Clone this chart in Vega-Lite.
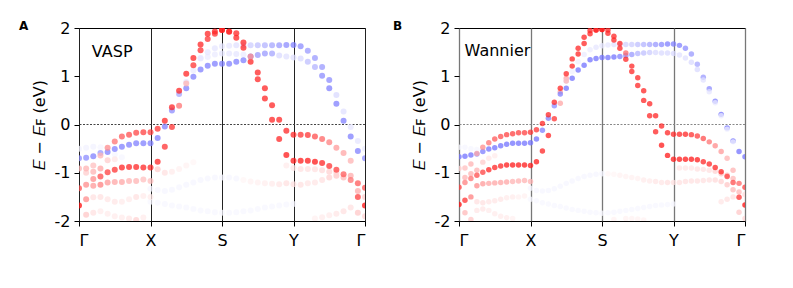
{
"$schema":"https://vega.github.io/schema/vega-lite/v6.json",
"background":"white",
"padding":{"left":18,"top":19,"right":5,"bottom":5},
"config":{"font":"DejaVu Sans","view":{"stroke":"#000","strokeWidth":1},
"axis":{"labelFont":"DejaVu Sans","labelFontSize":16,"labelColor":"#000","tickColor":"#000","tickSize":5,"tickWidth":1,"labelPadding":4,"domain":false,"titleFont":"DejaVu Sans","titleFontSize":16,"titleFontWeight":"normal","titleColor":"#000"}},
"spacing":94,
"bounds":"flush",
"datasets":{
"a":[
{"k":10,"e":-1.6,"w":-0.03},{"k":11,"e":-1.62,"w":-0.03},{"k":12,"e":-1.65,"w":-0.03},{"k":13,"e":-1.68,"w":-0.03},{"k":14,"e":-1.7,"w":-0.03},{"k":15,"e":-1.72,"w":-0.03},{"k":16,"e":-1.75,"w":-0.03},{"k":17,"e":-1.78,"w":-0.03},{"k":18,"e":-1.8,"w":-0.03},{"k":19,"e":-1.82,"w":-0.03},{"k":20,"e":-1.83,"w":-0.03},{"k":21,"e":-1.83,"w":-0.03},{"k":22,"e":-1.82,"w":-0.03},{"k":23,"e":-1.8,"w":-0.03},{"k":24,"e":-1.78,"w":-0.03},{"k":25,"e":-1.75,"w":-0.03},{"k":26,"e":-1.72,"w":-0.03},{"k":27,"e":-1.7,"w":-0.03},{"k":28,"e":-1.68,"w":-0.03},{"k":29,"e":-1.66,"w":-0.03},{"k":30,"e":-1.65,"w":-0.03},
{"k":10,"e":-1.33,"w":-0.04},{"k":11,"e":-1.36,"w":-0.04},{"k":12,"e":-1.38,"w":-0.04},{"k":13,"e":-1.35,"w":-0.04},{"k":14,"e":-1.3,"w":-0.04},{"k":15,"e":-1.25,"w":-0.04},{"k":16,"e":-1.2,"w":-0.04},{"k":17,"e":-1.15,"w":-0.04},{"k":18,"e":-1.12,"w":-0.04},{"k":19,"e":-1.1,"w":-0.04},{"k":20,"e":-1.1,"w":-0.04},{"k":21,"e":-1.1,"w":-0.04},{"k":22,"e":-1.12,"w":-0.04},{"k":23,"e":-1.15,"w":0.04},{"k":24,"e":-1.18,"w":0.05},{"k":25,"e":-1.2,"w":0.06},{"k":26,"e":-1.22,"w":0.07},{"k":27,"e":-1.23,"w":0.08},{"k":28,"e":-1.24,"w":0.1},{"k":29,"e":-1.22,"w":0.12},{"k":30,"e":-1.24,"w":0.12},{"k":31,"e":-1.25,"w":0.12},{"k":32,"e":-1.22,"w":0.1},{"k":33,"e":-1.2,"w":0.1},{"k":34,"e":-1.15,"w":0.12},{"k":35,"e":-1.1,"w":0.18},{"k":36,"e":-1.06,"w":0.22},{"k":37,"e":-1.1,"w":0.28},{"k":38,"e":-1.06,"w":0.33},{"k":39,"e":-1.38,"w":0.33},{"k":40,"e":-1.5,"w":0.2},
{"k":29,"e":-0.85,"w":0.08},{"k":30,"e":-0.9,"w":0.1},{"k":31,"e":-0.92,"w":0.12},{"k":32,"e":-0.92,"w":0.12},{"k":33,"e":-0.93,"w":0.12},{"k":34,"e":-0.95,"w":0.15},{"k":35,"e":-0.98,"w":0.18},{"k":36,"e":-1.0,"w":0.18},
{"k":11,"e":-0.93,"w":0.2},{"k":12,"e":-1.0,"w":0.12},{"k":13,"e":-0.98,"w":0.08},{"k":14,"e":-0.92,"w":0.06},{"k":15,"e":-0.85,"w":0.05},{"k":16,"e":-0.78,"w":0.04},
{"k":1,"e":-1.87,"w":0.22},{"k":2,"e":-1.83,"w":0.12},{"k":3,"e":-1.8,"w":0.08},{"k":4,"e":-1.85,"w":0.08},{"k":5,"e":-1.9,"w":0.08},{"k":6,"e":-1.93,"w":0.08},{"k":7,"e":-1.95,"w":0.1},{"k":8,"e":-1.98,"w":0.18},{"k":9,"e":-1.93,"w":0.08},{"k":33,"e":-1.95,"w":0.06},{"k":34,"e":-1.92,"w":0.08},{"k":35,"e":-1.88,"w":0.08},{"k":36,"e":-1.85,"w":0.1},{"k":37,"e":-1.8,"w":0.12},{"k":38,"e":-1.72,"w":0.12},{"k":39,"e":-1.83,"w":0.22},{"k":40,"e":-1.9,"w":0.18},
{"k":2,"e":-1.51,"w":0.12},{"k":3,"e":-1.5,"w":0.12},{"k":4,"e":-1.55,"w":0.1},{"k":5,"e":-1.6,"w":0.1},{"k":6,"e":-1.6,"w":0.08},{"k":7,"e":-1.55,"w":0.08},{"k":8,"e":-1.5,"w":0.12},{"k":9,"e":-1.48,"w":0.08},{"k":10,"e":-1.5,"w":0.08},
{"k":0,"e":-0.5,"w":-0.05},{"k":1,"e":-0.48,"w":-0.05},{"k":2,"e":-0.46,"w":-0.05},{"k":3,"e":-0.47,"w":-0.04},{"k":4,"e":-0.5,"w":-0.04},{"k":5,"e":-0.62,"w":-0.04},{"k":6,"e":-0.68,"w":-0.04},
{"k":0,"e":-1.68,"w":0.95},{"k":1,"e":-1.55,"w":0.45},{"k":2,"e":-1.27,"w":0.4},{"k":3,"e":-1.25,"w":0.5},{"k":4,"e":-1.2,"w":0.4},{"k":5,"e":-1.19,"w":0.35},{"k":6,"e":-1.19,"w":0.35},{"k":7,"e":-1.17,"w":0.3},{"k":8,"e":-1.17,"w":0.3},{"k":9,"e":-1.14,"w":0.25},{"k":10,"e":-1.17,"w":0.25},
{"k":1,"e":-1.0,"w":0.2},{"k":2,"e":-0.98,"w":0.3},{"k":3,"e":-0.91,"w":0.35},{"k":4,"e":-0.74,"w":0.2},{"k":5,"e":-0.72,"w":0.1},
{"k":17,"e":1.37,"w":-0.08},{"k":18,"e":1.4,"w":-0.08},{"k":19,"e":1.45,"w":-0.08},{"k":20,"e":1.47,"w":-0.1},{"k":21,"e":1.47,"w":-0.1},{"k":22,"e":1.46,"w":-0.1},{"k":23,"e":1.45,"w":-0.08},
{"k":15,"e":0.88,"w":-0.1},{"k":16,"e":1.12,"w":-0.08},{"k":17,"e":1.38,"w":-0.1},{"k":18,"e":1.5,"w":-0.1},{"k":19,"e":1.58,"w":-0.1},{"k":20,"e":1.62,"w":-0.1},{"k":21,"e":1.63,"w":-0.1},{"k":22,"e":1.64,"w":-0.12},{"k":23,"e":1.64,"w":-0.15},{"k":24,"e":1.64,"w":-0.2},{"k":25,"e":1.64,"w":-0.25},{"k":26,"e":1.64,"w":-0.3},{"k":27,"e":1.64,"w":-0.35},{"k":28,"e":1.64,"w":-0.4},{"k":29,"e":1.65,"w":-0.45},{"k":30,"e":1.65,"w":-0.5},{"k":31,"e":1.62,"w":-0.45},{"k":32,"e":1.53,"w":-0.4},{"k":33,"e":1.38,"w":-0.4},{"k":34,"e":1.19,"w":-0.4},{"k":35,"e":0.92,"w":-0.45},{"k":36,"e":0.61,"w":-0.15},{"k":37,"e":0.27,"w":-0.12},{"k":38,"e":-0.05,"w":-0.1},{"k":39,"e":-0.34,"w":-0.1},{"k":40,"e":-0.5,"w":-0.08},
{"k":0,"e":-0.7,"w":-0.45},{"k":1,"e":-0.69,"w":-0.45},{"k":2,"e":-0.66,"w":-0.5},{"k":3,"e":-0.59,"w":-0.4},{"k":4,"e":-0.57,"w":-0.5},{"k":5,"e":-0.51,"w":-0.5},{"k":6,"e":-0.46,"w":-0.5},{"k":7,"e":-0.42,"w":-0.5},{"k":8,"e":-0.39,"w":-0.5},{"k":9,"e":-0.39,"w":-0.5},{"k":10,"e":-0.39,"w":-0.5},{"k":11,"e":-0.28,"w":-0.5},{"k":12,"e":-0.04,"w":-0.5},{"k":13,"e":0.29,"w":-0.45},{"k":14,"e":0.63,"w":-0.35},{"k":15,"e":0.75,"w":-0.5},{"k":16,"e":0.99,"w":-0.5},{"k":17,"e":1.14,"w":-0.5},{"k":18,"e":1.22,"w":-0.5},{"k":19,"e":1.26,"w":-0.5},{"k":20,"e":1.26,"w":-0.5},{"k":21,"e":1.26,"w":-0.5},{"k":22,"e":1.3,"w":-0.5},{"k":23,"e":1.33,"w":-0.5},{"k":24,"e":1.41,"w":-0.45},{"k":25,"e":1.44,"w":-0.4},{"k":26,"e":1.47,"w":-0.4},{"k":27,"e":1.47,"w":-0.35},{"k":28,"e":1.43,"w":-0.15},{"k":29,"e":1.41,"w":-0.12},{"k":30,"e":1.39,"w":-0.12},{"k":31,"e":1.37,"w":-0.15},{"k":32,"e":1.3,"w":-0.25},{"k":33,"e":1.19,"w":-0.3},{"k":34,"e":1.01,"w":-0.45},{"k":35,"e":0.75,"w":-0.5},{"k":36,"e":0.43,"w":-0.5},{"k":37,"e":0.08,"w":-0.5},{"k":38,"e":-0.25,"w":-0.5},{"k":39,"e":-0.55,"w":-0.5},{"k":40,"e":-0.7,"w":-0.45},
{"k":0,"e":-1.32,"w":0.7},{"k":1,"e":-1.25,"w":0.45},{"k":2,"e":-1.13,"w":0.45},{"k":3,"e":-1.08,"w":0.7},{"k":4,"e":-0.99,"w":0.75},{"k":5,"e":-0.94,"w":0.8},{"k":6,"e":-0.89,"w":0.85},{"k":7,"e":-0.88,"w":0.85},{"k":8,"e":-0.88,"w":0.85},{"k":9,"e":-0.89,"w":0.85},{"k":10,"e":-0.89,"w":0.85},{"k":11,"e":-0.77,"w":0.85},{"k":12,"e":-0.46,"w":0.8},{"k":13,"e":-0.05,"w":0.8},{"k":14,"e":0.39,"w":0.55},{"k":15,"e":0.85,"w":0.3},{"k":16,"e":1.23,"w":0.8},{"k":17,"e":1.54,"w":0.8},{"k":18,"e":1.77,"w":0.8},{"k":19,"e":1.88,"w":0.8},{"k":20,"e":1.96,"w":0.8},{"k":21,"e":1.92,"w":0.8},{"k":22,"e":1.8,"w":0.85},{"k":23,"e":1.59,"w":0.85},{"k":24,"e":1.3,"w":0.85},{"k":25,"e":0.94,"w":0.85},{"k":26,"e":0.54,"w":0.85},{"k":27,"e":0.1,"w":0.85},{"k":28,"e":-0.3,"w":0.85},{"k":29,"e":-0.63,"w":0.9},{"k":30,"e":-0.75,"w":0.9},{"k":31,"e":-0.75,"w":0.9},{"k":32,"e":-0.75,"w":0.9},{"k":33,"e":-0.77,"w":0.9},{"k":34,"e":-0.8,"w":0.85},{"k":35,"e":-0.86,"w":0.8},{"k":36,"e":-0.94,"w":0.75},{"k":37,"e":-1.03,"w":0.65},{"k":38,"e":-1.15,"w":0.55},{"k":39,"e":-1.5,"w":0.75},{"k":40,"e":-1.68,"w":0.95},
{"k":0,"e":-0.91,"w":0.3},{"k":1,"e":-0.91,"w":0.3},{"k":2,"e":-0.85,"w":0.25},{"k":3,"e":-0.64,"w":0.3},{"k":4,"e":-0.48,"w":0.45},{"k":5,"e":-0.35,"w":0.55},{"k":6,"e":-0.25,"w":0.65},{"k":7,"e":-0.21,"w":0.7},{"k":8,"e":-0.17,"w":0.72},{"k":9,"e":-0.16,"w":0.75},{"k":10,"e":-0.16,"w":0.75},{"k":11,"e":-0.09,"w":0.8},{"k":12,"e":0.08,"w":0.85},{"k":13,"e":0.36,"w":0.85},{"k":14,"e":0.7,"w":0.85},{"k":15,"e":1.05,"w":0.85},{"k":16,"e":1.38,"w":0.85},{"k":17,"e":1.66,"w":0.85},{"k":18,"e":1.88,"w":0.85},{"k":19,"e":1.93,"w":0.85},{"k":20,"e":1.96,"w":0.9},{"k":21,"e":1.93,"w":0.85},{"k":22,"e":1.89,"w":0.85},{"k":23,"e":1.7,"w":0.85},{"k":24,"e":1.41,"w":0.45},{"k":25,"e":1.08,"w":0.85},{"k":26,"e":0.75,"w":0.85},{"k":27,"e":0.4,"w":0.85},{"k":28,"e":0.1,"w":0.85},{"k":29,"e":-0.13,"w":0.85},{"k":30,"e":-0.21,"w":0.85},{"k":31,"e":-0.21,"w":0.8},{"k":32,"e":-0.22,"w":0.8},{"k":33,"e":-0.25,"w":0.7},{"k":34,"e":-0.3,"w":0.6},{"k":35,"e":-0.37,"w":0.5},{"k":36,"e":-0.48,"w":0.4},{"k":37,"e":-0.59,"w":0.35},{"k":38,"e":-0.75,"w":0.3},{"k":39,"e":-1.22,"w":0.65},{"k":40,"e":-1.31,"w":0.7}
],
"b":[
{"k":12,"e":-1.55,"w":-0.03},{"k":13,"e":-1.58,"w":-0.03},{"k":14,"e":-1.62,"w":-0.03},{"k":15,"e":-1.65,"w":-0.03},{"k":16,"e":-1.68,"w":-0.03},{"k":17,"e":-1.7,"w":-0.03},{"k":18,"e":-1.73,"w":-0.03},{"k":19,"e":-1.76,"w":-0.03},{"k":20,"e":-1.78,"w":-0.03},{"k":21,"e":-1.8,"w":-0.03},{"k":22,"e":-1.82,"w":-0.03},{"k":23,"e":-1.83,"w":-0.03},{"k":24,"e":-1.84,"w":-0.03},{"k":25,"e":-1.83,"w":-0.03},{"k":26,"e":-1.82,"w":-0.03},{"k":27,"e":-1.8,"w":-0.03},{"k":28,"e":-1.78,"w":-0.03},{"k":29,"e":-1.76,"w":-0.03},{"k":30,"e":-1.74,"w":-0.03},{"k":31,"e":-1.72,"w":-0.03},{"k":32,"e":-1.7,"w":-0.03},{"k":33,"e":-1.68,"w":-0.03},{"k":34,"e":-1.67,"w":-0.03},{"k":35,"e":-1.66,"w":-0.03},{"k":36,"e":-1.65,"w":-0.03},
{"k":26,"e":-1.97,"w":0.05},{"k":28,"e":-1.95,"w":0.05},{"k":29,"e":-1.95,"w":0.05},{"k":30,"e":-1.96,"w":0.05},{"k":31,"e":-1.98,"w":0.05},
{"k":12,"e":-1.32,"w":-0.04},{"k":13,"e":-1.37,"w":-0.04},{"k":14,"e":-1.38,"w":-0.04},{"k":15,"e":-1.37,"w":-0.04},{"k":16,"e":-1.33,"w":-0.04},{"k":17,"e":-1.28,"w":-0.04},{"k":18,"e":-1.22,"w":-0.04},{"k":19,"e":-1.17,"w":-0.04},{"k":20,"e":-1.12,"w":-0.04},{"k":21,"e":-1.08,"w":-0.04},{"k":22,"e":-1.05,"w":-0.04},{"k":23,"e":-1.03,"w":-0.04},{"k":24,"e":-1.02,"w":-0.04},{"k":25,"e":-1.02,"w":0.04},{"k":26,"e":-1.03,"w":0.04},{"k":27,"e":-1.05,"w":0.05},{"k":28,"e":-1.08,"w":0.05},{"k":29,"e":-1.1,"w":0.06},{"k":30,"e":-1.12,"w":0.06},{"k":31,"e":-1.15,"w":0.08},{"k":32,"e":-1.17,"w":0.08},{"k":33,"e":-1.18,"w":0.1},{"k":34,"e":-1.2,"w":0.1},{"k":35,"e":-1.2,"w":0.12},{"k":36,"e":-1.2,"w":0.12},{"k":37,"e":-1.2,"w":0.12},{"k":38,"e":-1.18,"w":0.12},{"k":39,"e":-1.17,"w":0.12},{"k":40,"e":-1.17,"w":0.12},{"k":41,"e":-1.16,"w":0.12},{"k":42,"e":-1.15,"w":0.12},{"k":43,"e":-1.15,"w":0.15},{"k":44,"e":-1.18,"w":0.18},{"k":45,"e":-1.25,"w":0.22},{"k":46,"e":-1.35,"w":0.28},{"k":47,"e":-1.4,"w":0.28},{"k":48,"e":-1.45,"w":0.15},
{"k":37,"e":-0.9,"w":0.1},{"k":38,"e":-0.9,"w":0.1},{"k":39,"e":-0.9,"w":0.1},{"k":40,"e":-0.92,"w":0.12},{"k":41,"e":-0.93,"w":0.12},{"k":42,"e":-0.95,"w":0.12},{"k":43,"e":-0.97,"w":0.18},{"k":44,"e":-1.02,"w":0.22},{"k":45,"e":-1.05,"w":0.28},{"k":46,"e":-1.12,"w":0.28},
{"k":0,"e":-0.47,"w":-0.04},{"k":1,"e":-0.47,"w":-0.04},{"k":2,"e":-0.5,"w":-0.04},{"k":3,"e":-0.52,"w":-0.04},{"k":4,"e":-0.55,"w":-0.04},
{"k":44,"e":-1.6,"w":0.1},{"k":45,"e":-1.55,"w":0.12},{"k":46,"e":-1.5,"w":0.12},{"k":47,"e":-1.82,"w":0.22},{"k":48,"e":-1.95,"w":0.18},
{"k":0,"e":-1.66,"w":0.95},{"k":1,"e":-1.57,"w":0.8},{"k":2,"e":-1.5,"w":0.5},{"k":3,"e":-1.27,"w":0.45},{"k":4,"e":-1.23,"w":0.4},{"k":5,"e":-1.22,"w":0.35},{"k":6,"e":-1.21,"w":0.35},{"k":7,"e":-1.2,"w":0.35},{"k":8,"e":-1.19,"w":0.35},{"k":9,"e":-1.18,"w":0.3},{"k":10,"e":-1.17,"w":0.3},{"k":11,"e":-1.16,"w":0.3},{"k":12,"e":-1.18,"w":0.3},
{"k":1,"e":-1.1,"w":0.3},{"k":2,"e":-1.02,"w":0.3},{"k":3,"e":-0.95,"w":0.3},{"k":4,"e":-0.78,"w":0.2},{"k":5,"e":-0.7,"w":0.1},{"k":6,"e":-0.65,"w":0.08},
{"k":1,"e":-1.83,"w":0.28},{"k":2,"e":-1.97,"w":0.22},{"k":3,"e":-1.78,"w":0.1},{"k":4,"e":-1.75,"w":0.1},{"k":5,"e":-1.78,"w":0.08},{"k":6,"e":-1.85,"w":0.08},{"k":7,"e":-1.9,"w":0.08},{"k":8,"e":-1.93,"w":0.08},{"k":9,"e":-1.95,"w":0.06},
{"k":3,"e":-1.6,"w":0.12},{"k":4,"e":-1.62,"w":0.12},{"k":5,"e":-1.6,"w":0.1},{"k":6,"e":-1.58,"w":0.1},{"k":7,"e":-1.55,"w":0.1},{"k":8,"e":-1.52,"w":0.08},{"k":9,"e":-1.5,"w":0.08},{"k":10,"e":-1.5,"w":0.06},{"k":11,"e":-1.48,"w":0.06},
{"k":17,"e":0.68,"w":0.35},{"k":18,"e":0.96,"w":0.35},
{"k":18,"e":0.9,"w":-0.12},{"k":19,"e":1.1,"w":-0.06},{"k":20,"e":1.3,"w":-0.06},{"k":21,"e":1.45,"w":-0.08},{"k":22,"e":1.55,"w":-0.08},{"k":23,"e":1.6,"w":-0.1},{"k":24,"e":1.63,"w":-0.1},{"k":25,"e":1.65,"w":-0.1},{"k":26,"e":1.66,"w":-0.12},{"k":27,"e":1.66,"w":-0.15},{"k":28,"e":1.66,"w":-0.18},{"k":29,"e":1.66,"w":-0.2},{"k":30,"e":1.66,"w":-0.25},{"k":31,"e":1.66,"w":-0.3},{"k":32,"e":1.66,"w":-0.35},{"k":33,"e":1.66,"w":-0.4},{"k":34,"e":1.66,"w":-0.45},{"k":35,"e":1.67,"w":-0.5},{"k":36,"e":1.67,"w":-0.5},{"k":37,"e":1.64,"w":-0.5},{"k":38,"e":1.58,"w":-0.45},{"k":39,"e":1.46,"w":-0.4},{"k":40,"e":1.25,"w":-0.35},{"k":41,"e":0.98,"w":-0.4},{"k":42,"e":0.74,"w":-0.45},{"k":43,"e":0.48,"w":-0.5},{"k":44,"e":0.21,"w":-0.55},{"k":45,"e":-0.07,"w":-0.55},{"k":46,"e":-0.34,"w":-0.55},{"k":47,"e":-0.56,"w":-0.55},{"k":48,"e":-0.67,"w":-0.55},
{"k":0,"e":-0.67,"w":-0.55},{"k":1,"e":-0.66,"w":-0.55},{"k":2,"e":-0.63,"w":-0.55},{"k":3,"e":-0.61,"w":-0.45},{"k":4,"e":-0.56,"w":-0.5},{"k":5,"e":-0.51,"w":-0.55},{"k":6,"e":-0.48,"w":-0.55},{"k":7,"e":-0.44,"w":-0.55},{"k":8,"e":-0.41,"w":-0.55},{"k":9,"e":-0.39,"w":-0.55},{"k":10,"e":-0.39,"w":-0.55},{"k":11,"e":-0.39,"w":-0.55},{"k":12,"e":-0.38,"w":-0.55},{"k":13,"e":-0.3,"w":-0.55},{"k":14,"e":-0.12,"w":-0.5},{"k":15,"e":0.13,"w":-0.5},{"k":16,"e":0.39,"w":-0.45},{"k":17,"e":0.63,"w":-0.5},{"k":18,"e":0.75,"w":-0.55},{"k":19,"e":0.96,"w":-0.55},{"k":20,"e":1.13,"w":-0.55},{"k":21,"e":1.23,"w":-0.55},{"k":22,"e":1.34,"w":-0.55},{"k":23,"e":1.37,"w":-0.55},{"k":24,"e":1.39,"w":-0.55},{"k":25,"e":1.39,"w":-0.55},{"k":26,"e":1.4,"w":-0.55},{"k":27,"e":1.41,"w":-0.5},{"k":28,"e":1.43,"w":-0.45},{"k":29,"e":1.45,"w":-0.4},{"k":30,"e":1.47,"w":-0.3},{"k":31,"e":1.48,"w":-0.25},{"k":32,"e":1.49,"w":-0.2},{"k":33,"e":1.49,"w":-0.15},{"k":34,"e":1.48,"w":-0.15},{"k":35,"e":1.48,"w":-0.15},{"k":36,"e":1.47,"w":-0.15},{"k":37,"e":1.44,"w":-0.12},{"k":38,"e":1.38,"w":-0.12},{"k":39,"e":1.29,"w":-0.15},{"k":40,"e":1.14,"w":-0.15},{"k":41,"e":0.92,"w":-0.12},{"k":42,"e":0.68,"w":-0.1},{"k":43,"e":0.45,"w":-0.08},{"k":44,"e":0.18,"w":-0.08},{"k":45,"e":-0.1,"w":-0.06},{"k":46,"e":-0.36,"w":-0.06},
{"k":0,"e":-1.3,"w":0.75},{"k":1,"e":-1.2,"w":0.5},{"k":2,"e":-1.12,"w":0.55},{"k":3,"e":-1.05,"w":0.7},{"k":4,"e":-0.99,"w":0.75},{"k":5,"e":-0.94,"w":0.85},{"k":6,"e":-0.89,"w":0.85},{"k":7,"e":-0.86,"w":0.85},{"k":8,"e":-0.84,"w":0.9},{"k":9,"e":-0.84,"w":0.9},{"k":10,"e":-0.84,"w":0.9},{"k":11,"e":-0.84,"w":0.9},{"k":12,"e":-0.85,"w":0.9},{"k":13,"e":-0.77,"w":0.9},{"k":14,"e":-0.55,"w":0.85},{"k":15,"e":-0.23,"w":0.85},{"k":16,"e":0.12,"w":0.8},{"k":17,"e":0.44,"w":0.35},{"k":18,"e":0.9,"w":0.3},{"k":19,"e":1.21,"w":0.85},{"k":20,"e":1.46,"w":0.85},{"k":21,"e":1.68,"w":0.85},{"k":22,"e":1.88,"w":0.85},{"k":23,"e":1.96,"w":0.85},{"k":24,"e":1.97,"w":0.85},{"k":25,"e":1.89,"w":0.85},{"k":26,"e":1.75,"w":0.85},{"k":27,"e":1.58,"w":0.85},{"k":28,"e":1.35,"w":0.85},{"k":29,"e":1.1,"w":0.85},{"k":30,"e":0.81,"w":0.85},{"k":31,"e":0.5,"w":0.85},{"k":32,"e":0.18,"w":0.85},{"k":33,"e":-0.15,"w":0.85},{"k":34,"e":-0.43,"w":0.9},{"k":35,"e":-0.64,"w":0.9},{"k":36,"e":-0.72,"w":0.9},{"k":37,"e":-0.72,"w":0.9},{"k":38,"e":-0.72,"w":0.9},{"k":39,"e":-0.72,"w":0.9},{"k":40,"e":-0.73,"w":0.9},{"k":41,"e":-0.77,"w":0.85},{"k":42,"e":-0.82,"w":0.85},{"k":43,"e":-0.89,"w":0.85},{"k":44,"e":-0.98,"w":0.85},{"k":45,"e":-1.08,"w":0.75},{"k":46,"e":-1.2,"w":0.7},{"k":47,"e":-1.51,"w":0.8},{"k":48,"e":-1.67,"w":0.95},
{"k":0,"e":-0.91,"w":0.2},{"k":1,"e":-0.9,"w":0.25},{"k":2,"e":-0.82,"w":0.3},{"k":3,"e":-0.6,"w":0.35},{"k":4,"e":-0.47,"w":0.45},{"k":5,"e":-0.38,"w":0.55},{"k":6,"e":-0.3,"w":0.65},{"k":7,"e":-0.25,"w":0.7},{"k":8,"e":-0.21,"w":0.75},{"k":9,"e":-0.19,"w":0.75},{"k":10,"e":-0.17,"w":0.75},{"k":11,"e":-0.17,"w":0.75},{"k":12,"e":-0.16,"w":0.8},{"k":13,"e":-0.11,"w":0.8},{"k":14,"e":0.02,"w":0.85},{"k":15,"e":0.2,"w":0.85},{"k":16,"e":0.46,"w":0.85},{"k":17,"e":0.75,"w":0.85},{"k":18,"e":1.05,"w":0.85},{"k":19,"e":1.36,"w":0.85},{"k":20,"e":1.58,"w":0.85},{"k":21,"e":1.81,"w":0.85},{"k":22,"e":1.95,"w":0.85},{"k":23,"e":1.96,"w":0.85},{"k":24,"e":1.97,"w":0.9},{"k":25,"e":1.96,"w":0.85},{"k":26,"e":1.83,"w":0.85},{"k":27,"e":1.68,"w":0.85},{"k":28,"e":1.48,"w":0.6},{"k":29,"e":1.21,"w":0.85},{"k":30,"e":0.97,"w":0.85},{"k":31,"e":0.7,"w":0.85},{"k":32,"e":0.43,"w":0.85},{"k":33,"e":0.18,"w":0.85},{"k":34,"e":-0.03,"w":0.85},{"k":35,"e":-0.17,"w":0.85},{"k":36,"e":-0.2,"w":0.85},{"k":37,"e":-0.2,"w":0.85},{"k":38,"e":-0.2,"w":0.85},{"k":39,"e":-0.21,"w":0.8},{"k":40,"e":-0.24,"w":0.75},{"k":41,"e":-0.29,"w":0.7},{"k":42,"e":-0.36,"w":0.55},{"k":43,"e":-0.44,"w":0.45},{"k":44,"e":-0.56,"w":0.4},{"k":45,"e":-0.7,"w":0.3},{"k":46,"e":-0.95,"w":0.3},{"k":47,"e":-1.22,"w":0.6},{"k":48,"e":-1.3,"w":0.75}
]},
"hconcat":[
{"width":286,"height":193,
"title":{"text":"A","anchor":"start","frame":"bounds","fontSize":12,"fontWeight":"bold","baseline":"middle","offset":-18,"dx":-12,"color":"#000"},
"layer":[
{"data":{"values":[{}]},"mark":{"type":"rule","color":"#444","strokeDash":[2,1.5],"strokeWidth":1},"encoding":{"y":{"datum":0,"type":"quantitative","scale":{"domain":[-2,2],"nice":false}}}},
{"data":{"name":"a"},"mark":{"type":"circle","size":36,"opacity":0.75,"clip":true},
"encoding":{
"x":{"field":"k","type":"quantitative","scale":{"domain":[0,40],"nice":false,"zero":false},"axis":{"values":[0,10,20,30,40],"labelExpr":"datum.value==10?'X':datum.value==20?'S':datum.value==30?'Y':'Γ'","title":null,"grid":true,"gridColor":"#222","gridWidth":1,"labelPadding":6}},
"y":{"field":"e","type":"quantitative","scale":{"domain":[-2,2],"nice":false},"axis":{"values":[-2,-1,0,1,2],"labelExpr":"''+datum.value","title":"𝐸 − 𝐸ꜰ (eV)","titlePadding":7,"grid":false}},
"color":{"field":"w","type":"quantitative","scale":{"domain":[-1,0,1],"range":["#0000ff","#ffffff","#ff0000"],"interpolate":"rgb"},"legend":null}}},
{"data":{"values":[{}]},"mark":{"type":"text","fontSize":16,"align":"left","baseline":"middle","color":"#000"},"encoding":{"x":{"datum":1.8,"type":"quantitative","scale":{"domain":[0,40],"nice":false,"zero":false}},"y":{"datum":1.5,"type":"quantitative","scale":{"domain":[-2,2],"nice":false}},"text":{"value":"VASP"}}}
]},
{"width":286,"height":193,
"title":{"text":"B","anchor":"start","frame":"bounds","fontSize":12,"fontWeight":"bold","baseline":"middle","offset":-18,"dx":-18,"color":"#000"},
"layer":[
{"data":{"values":[{}]},"mark":{"type":"rule","color":"#888","strokeDash":[2,1.5],"strokeWidth":1},"encoding":{"y":{"datum":0,"type":"quantitative","scale":{"domain":[-2,2],"nice":false}}}},
{"data":{"name":"b"},"mark":{"type":"circle","size":30,"opacity":0.75,"clip":true},
"encoding":{
"x":{"field":"k","type":"quantitative","scale":{"domain":[0,48],"nice":false,"zero":false},"axis":{"values":[0,12,24,36,48],"labelExpr":"datum.value==12?'X':datum.value==24?'S':datum.value==36?'Y':'Γ'","title":null,"grid":true,"gridColor":"#777","gridWidth":1.3,"labelPadding":6}},
"y":{"field":"e","type":"quantitative","scale":{"domain":[-2,2],"nice":false},"axis":{"values":[-2,-1,0,1,2],"labelExpr":"''+datum.value","title":"𝐸 − 𝐸ꜰ (eV)","titlePadding":7,"grid":false}},
"color":{"field":"w","type":"quantitative","scale":{"domain":[-1,0,1],"range":["#0000ff","#ffffff","#ff0000"],"interpolate":"rgb"},"legend":null}}},
{"data":{"values":[{}]},"mark":{"type":"text","fontSize":16,"align":"left","baseline":"middle","color":"#000"},"encoding":{"x":{"datum":0.94,"type":"quantitative","scale":{"domain":[0,48],"nice":false,"zero":false}},"y":{"datum":1.52,"type":"quantitative","scale":{"domain":[-2,2],"nice":false}},"text":{"value":"Wannier"}}}
]}
]
}
